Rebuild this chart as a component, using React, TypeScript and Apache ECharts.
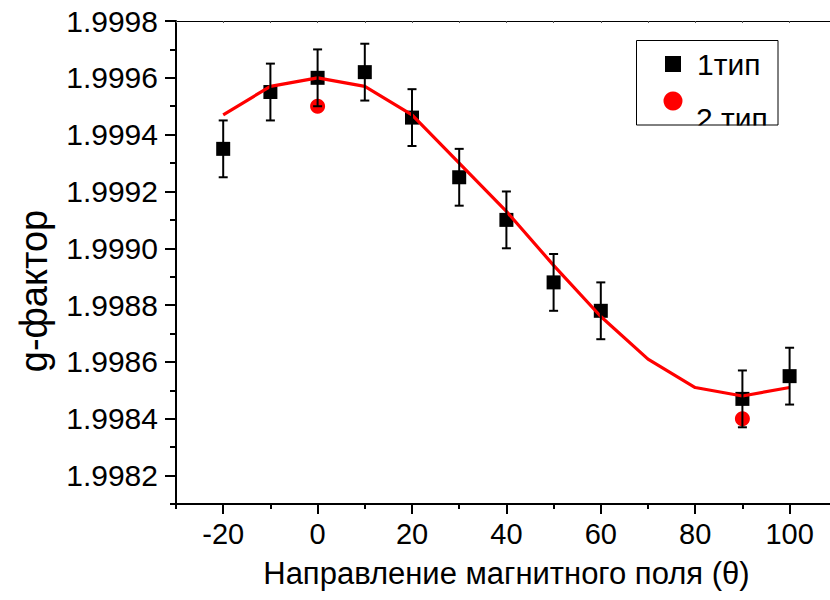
import React, { useEffect, useRef } from "react";
import * as echarts from "echarts";

// ---- data ----
const angles1 = [-20, -10, 0, 10, 20, 30, 40, 50, 60, 90, 100];
const gType1 = [1.99935, 1.99955, 1.9996, 1.99962, 1.99946, 1.99925, 1.9991, 1.99888, 1.99878, 1.99847, 1.99855];
const gType1Err = [0.0001, 0.0001, 0.0001, 0.0001, 0.0001, 0.0001, 0.0001, 0.0001, 0.0001, 0.0001, 0.0001];
const angles2 = [0, 90];
const gType2 = [1.9995, 1.9984];
const fitAngles = [-20, -10, 0, 10, 20, 30, 40, 50, 60, 70, 80, 90, 100];
const fitValues = [1.99947, 1.99957, 1.9996, 1.99957, 1.99947, 1.9993, 1.99913, 1.99894, 1.99876, 1.99861, 1.99851, 1.99848, 1.99851];
const xMajorTicks = [-20, 0, 20, 40, 60, 80, 100];
const xMinorTicks = [-30, -10, 10, 30, 50, 70, 90, 110];
const xAllTicks = [-30, -20, -10, 0, 10, 20, 30, 40, 50, 60, 70, 80, 90, 100, 110];
const yMajorTicks = [1.9982, 1.9984, 1.9986, 1.9988, 1.999, 1.9992, 1.9994, 1.9996, 1.9998];
const yMinorTicks = [1.9981, 1.9983, 1.9985, 1.9987, 1.9989, 1.9991, 1.9993, 1.9995, 1.9997];
const seriesNames = ["1тип", "2 тип"];
const xTitle = "Направление магнитного поля (θ)";
const yTitle = "g-фактор";

const FONT = "Arial, 'Liberation Sans', Helvetica, sans-serif";
const X_MIN = -30;
const X_MAX = 110;
const Y_MIN = 1.9981;
const Y_MAX = 1.9998;

export default function App() {
  const ref = useRef<HTMLDivElement>(null);

  useEffect(() => {
    if (!ref.current) return;
    const chart = echarts.init(ref.current, undefined, { renderer: "svg" });

    const errData = angles1.map((a, i) => [a, gType1[i] - gType1Err[i], gType1[i] + gType1Err[i]]);

    const baseX = { type: "value", min: X_MIN, max: X_MAX, splitLine: { show: false } };
    const baseY = { type: "value", min: Y_MIN, max: Y_MAX, splitLine: { show: false } };

    const option: any = {
      animation: false,
      backgroundColor: "#ffffff",
      grid: {
        left: 176,
        top: 21,
        width: 660.8,
        height: 483,
        containLabel: false,
        outerBoundsMode: "none",
      },
      xAxis: [
        {
          ...baseX,
          position: "bottom",
          name: xTitle,
          nameLocation: "middle",
          nameGap: 54,
          nameTextStyle: { fontSize: 31, fontFamily: FONT, color: "#000" },
          axisLine: { show: true, onZero: false, lineStyle: { color: "#000", width: 2 } },
          axisTick: { show: true, inside: false, length: 10, customValues: xMajorTicks, lineStyle: { color: "#000", width: 2 } },
          axisLabel: {
            show: true,
            customValues: xMajorTicks,
            margin: 15,
            fontSize: 29,
            fontFamily: FONT,
            color: "#000",
          },
        },
        {
          ...baseX,
          position: "bottom",
          axisLine: { show: false, onZero: false },
          axisTick: { show: true, inside: false, length: 5, customValues: xMinorTicks, lineStyle: { color: "#000", width: 2 } },
          axisLabel: { show: false },
        },
        {
          ...baseX,
          position: "top",
          axisLine: { show: true, onZero: false, lineStyle: { color: "#000", width: 1.2 } },
          axisTick: { show: true, inside: true, length: 2, customValues: xAllTicks, lineStyle: { color: "#555", width: 1 } },
          axisLabel: { show: false },
        },
      ],
      yAxis: [
        {
          ...baseY,
          position: "left",
          axisLine: { show: true, onZero: false, lineStyle: { color: "#000", width: 2 } },
          axisTick: { show: true, inside: false, length: 11, customValues: yMajorTicks, lineStyle: { color: "#000", width: 2 } },
          axisLabel: {
            show: true,
            customValues: yMajorTicks,
            margin: 18,
            fontSize: 30,
            fontFamily: FONT,
            color: "#000",
            formatter: (v: number) => v.toFixed(4),
          },
        },
        {
          ...baseY,
          position: "left",
          axisLine: { show: false, onZero: false },
          axisTick: { show: true, inside: false, length: 6, customValues: yMinorTicks, lineStyle: { color: "#000", width: 2 } },
          axisLabel: { show: false },
        },
      ],
      series: [
        {
          name: seriesNames[1],
          type: "scatter",
          xAxisIndex: 0,
          yAxisIndex: 0,
          data: angles2.map((a, i) => [a, gType2[i]]),
          symbol: "circle",
          symbolSize: 15,
          itemStyle: { color: "#ff0000", opacity: 1 },
          z: 2,
        },
        {
          name: seriesNames[0],
          type: "scatter",
          xAxisIndex: 0,
          yAxisIndex: 0,
          data: angles1.map((a, i) => [a, gType1[i]]),
          symbol: "rect",
          symbolSize: 14,
          itemStyle: { color: "#000000", opacity: 1 },
          z: 3,
        },
        {
          name: "fit",
          type: "line",
          xAxisIndex: 0,
          yAxisIndex: 0,
          data: fitAngles.map((a, i) => [a, fitValues[i]]),
          showSymbol: false,
          symbol: "none",
          lineStyle: { color: "#ff0000", width: 3.2 },
          z: 4,
        },
        {
          name: "err",
          type: "custom",
          xAxisIndex: 0,
          yAxisIndex: 0,
          data: errData,
          encode: { x: 0, y: [1, 2] },
          z: 5,
          renderItem: (params: any, api: any) => {
            const x = api.value(0);
            const lo = api.coord([x, api.value(1)]);
            const hi = api.coord([x, api.value(2)]);
            const hw = 4.5;
            const style = { stroke: "#000", lineWidth: 2, fill: "none" };
            return {
              type: "group",
              children: [
                { type: "line", shape: { x1: lo[0], y1: lo[1], x2: hi[0], y2: hi[1] }, style },
                { type: "line", shape: { x1: lo[0] - hw, y1: lo[1], x2: lo[0] + hw, y2: lo[1] }, style },
                { type: "line", shape: { x1: hi[0] - hw, y1: hi[1], x2: hi[0] + hw, y2: hi[1] }, style },
              ],
            };
          },
        },
      ],
      graphic: [
        // axis-line overhangs at the left of the frame
        { type: "line", shape: { x1: 165, y1: 21, x2: 176, y2: 21 }, style: { stroke: "#000", lineWidth: 1.2 }, z: 10 },
        { type: "line", shape: { x1: 170, y1: 504, x2: 176, y2: 504 }, style: { stroke: "#000", lineWidth: 2 }, z: 10 },
        // y axis title
        {
          type: "text",
          x: 34,
          y: 291,
          rotation: Math.PI / 2,
          style: {
            text: yTitle,
            fontSize: 38,
            fontFamily: FONT,
            fill: "#000",
            align: "center",
            verticalAlign: "middle",
          },
          z: 10,
        },
        // legend box
        {
          type: "rect",
          shape: { x: 636.5, y: 40.5, width: 141.5, height: 84.5 },
          style: { fill: "#fff", stroke: "none" },
          z: 20,
        },
        {
          type: "rect",
          shape: { x: 665, y: 56, width: 16, height: 16 },
          style: { fill: "#000" },
          z: 21,
        },
        {
          type: "text",
          x: 697,
          y: 64,
          style: { text: seriesNames[0], fontSize: 30, fontFamily: FONT, fill: "#000", align: "left", verticalAlign: "middle" },
          z: 21,
        },
        {
          type: "circle",
          shape: { cx: 673, cy: 101, r: 9.5 },
          style: { fill: "#ff0000" },
          z: 21,
        },
        {
          type: "text",
          x: 696,
          y: 118,
          style: { text: seriesNames[1], fontSize: 30, fontFamily: FONT, fill: "#000", align: "left", verticalAlign: "middle" },
          z: 21,
        },
        {
          type: "rect",
          shape: { x: 637, y: 125.5, width: 150, height: 20 },
          style: { fill: "#fff" },
          z: 22,
        },
        {
          type: "rect",
          shape: { x: 636.5, y: 40.5, width: 141.5, height: 84.5 },
          style: { fill: "none", stroke: "#000", lineWidth: 1 },
          z: 23,
        },
      ],
    };

    chart.setOption(option);
    return () => chart.dispose();
  }, []);

  return (
    <div
      ref={ref}
      style={{ position: "absolute", left: 0, top: 0, width: 830, height: 600, background: "#fff" }}
    />
  );
}
